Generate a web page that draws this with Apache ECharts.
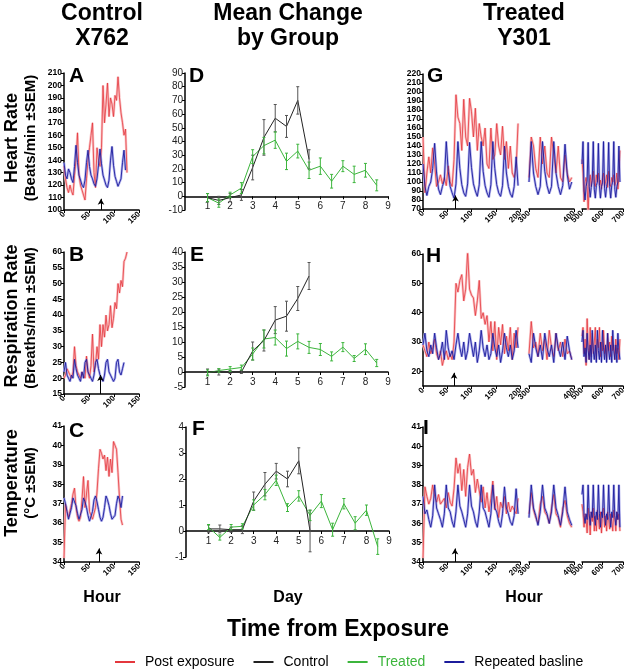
<!DOCTYPE html>
<html><head><meta charset="utf-8">
<script src="https://cdn.jsdelivr.net/npm/echarts@6/dist/echarts.min.js"></script>
<style>html,body{margin:0;padding:0;background:#fff}#c{width:630px;height:669px}</style>
</head><body><div id="c"></div>
<script>
// ---------- DATA ----------
const ctrlHours = [0,3,6,9,12,15,18,21,24,27,30,33,36,39,42,45,48,51,54,57,60,63,66,69,72,75,78,81,84,87,90,93,96,99,102,105,108,111,114,117,120,123,126];
const seg1Hours = [0,4,8,12,16,20,24,28,32,36,40,44,48,52,56,60,64,68,72,76,80,84,88,92,96,100,104,108,112,116,120,124,128,132,136,140,144,148,152,156,160,164,168,172,176,180,184,188,192,196];
const seg2Hours = [300,305,310,315,320,325,330,335,340,345,350,355,360,365,370,375,380,385,390,395];
const seg3Hours = [500,505,510,515,520,525,530,535,540,545,550,555,560,565,570,575,580,585,590,595,600,605,610,615,620,625,630,635,640,645,650,655,660,665,670,675,680,685];

// Control X762
const hrCtrlPost = [135,125,118,114,120,115,112,128,140,162,128,120,116,112,108,125,140,150,160,170,130,118,150,140,135,150,200,170,185,202,175,190,185,175,192,188,207,190,178,170,160,165,130];
const hrCtrlBase = [138,128,125,133,130,125,122,135,152,138,128,124,120,118,124,138,148,135,128,125,121,119,125,136,149,137,128,124,120,118,124,140,151,136,127,123,119,118,125,138,148,132];
const rrCtrlPost = [20,21,23,22,21,20,22,30,24,22,21,20,22,21,20,27,22,20,24,34,22,24,30,26,37,30,37,33,40,35,37,43,36,39,44,42,50,47,51,49,57,58,60];
const rrCtrlBase = [22,25,21,20,19,21,20,26,23,21,20,19,22,20,25,26,22,21,20,19,21,25,26,23,21,20,19,21,25,26,22,21,20,19,20,25,26,22,21,23,25];
const tCtrlPost = [34.2,37.0,36.6,36.3,36.2,37.0,37.5,37.8,36.8,36.3,36.1,36.3,37.2,38.4,36.8,37.5,38.2,36.6,36.4,36.2,36.3,36.8,37.6,38.8,39.8,39.6,39.3,39.5,38.7,39.4,38.4,39.3,38.6,40.2,40.1,39.8,38.6,37.3,36.2,35.9];
const tCtrlBase = [37.3,37.0,36.6,36.2,36.3,36.8,37.3,37.2,36.9,36.5,36.2,36.2,36.7,37.3,37.1,36.8,36.4,36.1,36.2,36.6,37.2,37.4,37.1,36.7,36.3,36.1,36.3,36.8,37.4,37.2,36.9,36.5,36.2,36.1,36.4,37.0,37.4,37.2,36.8,37.4];

// Mean change by group
const days = [1,1.5,2,2.5,3,3.5,4,4.5,5,5.5,6,6.5,7,7.5,8,8.5];
const hrMeanCtrl = [-1,-3,-1,1,21,43,57,51,70,27];
const hrErrCtrl  = [3,3,3,4,9,13,10,8,10,7];
const hrMeanTrt  = [-1,-5,1,6,29,37,41,25.5,33,19,22,11,22,16,19,8];
const hrErrTrt   = [3,3,2,4,5,6,6,6,5,6,6,5,4,6,5,4];
const rrMeanCtrl = [0,0,0,0,7,10.5,17.3,18.6,24.5,32];
const rrErrCtrl  = [1,1,0.5,0.5,3,3.5,4.5,5,4,4.5];
const rrMeanTrt  = [-0.3,0.5,1,1.5,6,11,11.5,7.8,10.2,8.2,7.5,5.2,8.3,4.5,7.6,3];
const rrErrTrt   = [1,0.6,0.8,0.8,2,3,2.5,2.5,2.5,2,2,1.5,1.5,1,1.8,1.2];
const tMeanCtrl  = [0.08,0.08,0.05,0.05,1.15,1.8,2.3,2.0,2.7,0.0];
const tErrCtrl   = [0.15,0.15,0.1,0.15,0.35,0.45,0.3,0.3,0.5,0.8];
const tMeanTrt   = [0.15,-0.25,0.15,0.18,1.0,1.4,1.95,0.9,1.35,0.6,1.15,0.05,1.05,0.3,0.8,-0.6];
const tErrTrt    = [0.1,0.1,0.1,0.1,0.2,0.2,0.2,0.15,0.2,0.2,0.25,0.25,0.2,0.25,0.2,0.3];

// Treated Y301
const hrTrtPost1 = [150,88,110,128,110,138,120,95,100,108,98,105,96,118,100,95,125,197,172,165,135,192,150,140,193,178,150,182,135,165,150,140,160,120,115,160,125,130,165,140,130,162,125,145,115,140,110,105,115,165];
const hrTrtBase1 = [120,95,85,95,100,115,143,110,92,86,95,102,145,112,95,88,82,98,145,115,97,88,84,98,144,116,98,90,84,97,145,112,96,88,83,97,145,115,97,88,84,96,140,110,95,87,83,95,128,96];
const hrTrtPost2 = [105,150,140,115,105,150,120,140,110,105,150,130,110,140,105,100,130,110,100,105];
const hrTrtBase2 = [100,145,110,95,86,95,145,112,96,87,95,145,110,95,86,96,142,108,92,100];
const hrTrtPost3 = [125,110,78,100,105,95,66,100,108,95,105,112,98,95,108,100,110,96,102,92,105,110,95,100,108,94,112,98,95,105,100,108,96,100,110,92,105,135];
const hrTrtBase3 = [120,145,90,80,95,101,144,95,83,94,102,145,92,82,96,100,143,96,82,95,99,145,93,83,95,101,144,95,82,96,100,145,92,83,95,100,140,100];

const rrTrtPost1 = [29,27,25,30,26,28,31,26,24,27,22,25,27,24,26,24,30,50,47,51,53,44,48,61,48,46,45,39,44,51,38,40,36,39,30,37,27,37,24,35,29,36,26,32,27,35,24,33,28,35];
const rrTrtBase1 = [29,33,27,25,29,26,33,28,24,26,30,24,34,28,25,27,24,29,33,28,25,30,24,27,33,29,25,30,23,27,34,28,25,29,24,26,33,28,25,29,23,27,33,28,25,29,24,27,34,28];
const rrTrtPost2 = [26,37,28,30,25,33,27,31,24,34,28,25,33,27,30,25,31,26,27,24];
const rrTrtBase2 = [26,23,33,28,25,29,24,33,28,25,29,23,33,28,25,30,24,32,27,24];
const rrTrtPost3 = [32,35,26,31,22,38,28,24,35,25,33,26,30,35,24,31,28,35,25,30,27,34,26,29,24,33,27,30,25,32,27,29,24,31,26,28,24,31];
const rrTrtBase3 = [30,34,25,28,23,33,27,24,29,23,34,27,24,29,23,34,27,24,30,23,34,28,24,29,23,33,27,24,29,23,34,27,24,29,23,33,27,24];

const tTrtPost1 = [34.2,37.9,37.4,37.0,37.3,38.0,37.4,37.1,37.5,37.0,36.9,37.3,36.8,37.6,37.1,36.9,37.8,39.4,38.6,39.1,37.7,38.8,37.4,38.9,39.6,38.5,38.8,37.6,38.3,38.2,37.1,37.9,36.8,37.6,36.6,37.3,38.2,36.7,37.4,36.3,37.1,36.8,37.4,36.5,37.1,36.6,36.9,36.8,36.5,37.3];
const tTrtBase1 = [37.4,36.5,36.7,36.2,35.8,36.4,38.0,36.8,36.5,36.2,35.8,36.5,38.0,36.8,36.6,36.1,35.8,36.6,38.0,36.9,36.6,36.2,35.8,36.5,38.0,36.9,36.6,36.1,35.8,36.6,38.0,36.8,36.6,36.2,35.8,36.5,38.0,36.8,36.6,36.1,35.8,36.5,37.9,36.8,36.5,36.1,35.9,36.4,37.8,36.5];
const tTrtPost2 = [36.5,37.6,36.7,36.3,36.0,37.0,37.4,36.6,36.4,36.0,36.8,37.5,36.5,36.3,35.8,36.8,37.2,36.4,36.0,35.8];
const tTrtBase2 = [36.3,38.0,36.8,36.4,35.9,36.6,38.0,36.8,36.5,36.0,36.6,38.0,36.8,36.4,35.9,36.6,37.9,36.6,36.2,35.9];
const tTrtPost3 = [37.0,36.6,35.8,36.5,36.2,35.5,36.8,36.3,35.4,36.6,36.1,36.8,35.6,36.4,35.6,36.7,36.3,35.7,36.6,35.5,36.5,36.8,35.8,36.4,35.6,36.6,36.2,35.7,36.5,36.1,35.6,36.7,36.3,35.6,36.6,36.2,36.5,35.6];
const tTrtBase3 = [37.5,38.0,36.4,36.0,36.5,36.2,38.0,36.5,35.9,36.6,36.3,38.0,36.4,35.9,36.6,36.2,38.0,36.5,35.8,36.6,36.3,38.0,36.4,35.9,36.5,36.2,38.0,36.5,35.8,36.6,36.3,38.0,36.4,35.9,36.6,36.2,38.0,35.8];

// exposure arrows: [hour, from, to]
const arrowA = [74,100,109], arrowB = [73,15,21], arrowC = [70,34,34.7];
const arrowG = [67,70,85], arrowH = [64,15,19.5], arrowI = [66,34,34.7];

// ---------- STYLE / LAYOUT ----------
const FONT = '"Liberation Sans", Arial, sans-serif';
const RED = '#e4373d', RED_BAND = '#f9c3c5', BLUE = '#1c1c9c', BLUE_BAND = '#b4b4ee';
const BLACK = '#222222', GREEN = '#3cb53c';

const grids = [], xAxes = [], yAxes = [], series = [];
function pair(h, v) { return v.map((y, i) => [h[i], y]); }

function addGrid(r) {
  grids.push({left: r[0], top: r[1], width: r[2], height: r[3], containLabel: false, outerBoundsMode: 'none'});
  return grids.length - 1;
}

function addTime(rect, xr, yr, showY, red, blue, arrow, yCustom) {
  const gi = addGrid(rect);
  xAxes.push({type: 'value', gridIndex: gi, min: xr[0], max: xr[1], interval: xr[2],
    axisLine: {onZero: false, lineStyle: {color: '#000', width: 1.5}},
    axisTick: {length: 3, lineStyle: {color: '#000', width: 1}},
    axisLabel: {rotate: 45, fontSize: 8, fontWeight: 'bold', color: '#000', fontFamily: FONT, margin: 3},
    splitLine: {show: false}});
  const yl = {fontSize: 8.5, fontWeight: 'bold', color: '#000', fontFamily: FONT, margin: 2};
  const yt = {show: true, length: 3, lineStyle: {color: '#000', width: 1}};
  if (yCustom) { yl.customValues = yCustom; yt.customValues = yCustom; }
  yAxes.push({type: 'value', gridIndex: gi, min: yr[0], max: yr[1], interval: yr[2], show: showY,
    axisLine: {show: true, onZero: false, lineStyle: {color: '#000', width: 1.5}},
    axisTick: yt, axisLabel: yl, splitLine: {show: false}});
  const base = {type: 'line', xAxisIndex: gi, yAxisIndex: gi, symbol: 'none', showSymbol: false, silent: true, animation: false};
  series.push(Object.assign({}, base, {name: 'pe-band', data: red, z: 1, lineStyle: {color: RED_BAND, width: 2.5}, itemStyle: {color: RED_BAND}}));
  series.push(Object.assign({}, base, {name: 'rb-band', data: blue, z: 1, lineStyle: {color: BLUE_BAND, width: 2.5}, itemStyle: {color: BLUE_BAND}}));
  series.push(Object.assign({}, base, {name: 'Post exposure', data: red, z: 2, lineStyle: {color: RED, width: 0.8}, itemStyle: {color: RED}}));
  const b = Object.assign({}, base, {name: 'Repeated basline', data: blue, z: 3, lineStyle: {color: BLUE, width: 0.9}, itemStyle: {color: BLUE}});
  if (arrow) {
    b.markLine = {silent: true, animation: false, symbol: ['none', 'arrow'], symbolSize: [5, 6],
      lineStyle: {color: '#000', width: 1, type: 'solid'}, label: {show: false},
      data: [[{coord: [arrow[0], arrow[1]]}, {coord: [arrow[0], arrow[2]]}]]};
  }
  series.push(b);
}

function errSeries(gi, pts, vals, errs, color) {
  return {type: 'custom', xAxisIndex: gi, yAxisIndex: gi, silent: true, animation: false, z: 4,
    data: vals.map((v, i) => [pts[i], v, errs[i]]), encode: {x: 0, y: 1},
    renderItem: function (params, api) {
      const x = api.value(0), y = api.value(1), e = api.value(2);
      const p1 = api.coord([x, y + e]), p2 = api.coord([x, y - e]);
      const st = {stroke: color, lineWidth: 1};
      return {type: 'group', children: [
        {type: 'line', shape: {x1: p1[0], y1: p1[1], x2: p2[0], y2: p2[1]}, style: st},
        {type: 'line', shape: {x1: p1[0] - 1.5, y1: p1[1], x2: p1[0] + 1.5, y2: p1[1]}, style: st},
        {type: 'line', shape: {x1: p2[0] - 1.5, y1: p2[1], x2: p2[0] + 1.5, y2: p2[1]}, style: st}]};
    }};
}

function addDay(rect, yr, mc, ec, mt, et) {
  const gi = addGrid(rect);
  // place the x axis at value 0 of the y range
  const zeroOffset = -((0 - yr[0]) / (yr[1] - yr[0])) * rect[3];
  xAxes.push({type: 'value', gridIndex: gi, min: 0, max: 9, interval: 1, offset: zeroOffset,
    axisLine: {onZero: false, lineStyle: {color: '#000', width: 1.5}},
    axisTick: {length: 3, lineStyle: {color: '#000'}},
    axisLabel: {fontSize: 10, color: '#222', fontFamily: FONT, margin: 5, showMinLabel: false},
    splitLine: {show: false}});
  yAxes.push({type: 'value', gridIndex: gi, min: yr[0], max: yr[1], interval: yr[2],
    axisLine: {show: true, onZero: false, lineStyle: {color: '#000', width: 1.5}},
    axisTick: {show: true, length: 3, lineStyle: {color: '#000'}},
    axisLabel: {fontSize: 10, color: '#222', fontFamily: FONT, margin: 2},
    splitLine: {show: false}});
  const base = {type: 'line', xAxisIndex: gi, yAxisIndex: gi, symbol: 'none', showSymbol: false, silent: true, animation: false};
  series.push(Object.assign({}, base, {name: 'Control', data: pair(days, mc), z: 3, lineStyle: {color: BLACK, width: 1}, itemStyle: {color: BLACK}}));
  series.push(Object.assign({}, base, {name: 'Treated', data: pair(days, mt), z: 2, lineStyle: {color: GREEN, width: 1}, itemStyle: {color: GREEN}}));
  series.push(errSeries(gi, days, mc, ec, '#555'));
  series.push(errSeries(gi, days, mt, et, GREEN));
}

const X_CTRL = [0, 150, 50], X1 = [0, 200, 50], X2 = [300, 400, 100], X3 = [500, 700, 100];

// Row 1
addTime([64, 73, 75, 137], X_CTRL, [100, 210, 10], true, pair(ctrlHours, hrCtrlPost), pair(ctrlHours, hrCtrlBase), arrowA);
addDay([185, 73, 203, 137], [-10, 90, 10], hrMeanCtrl, hrErrCtrl, hrMeanTrt, hrErrTrt);
addTime([423, 74, 97, 135], X1, [70, 220, 10], true, pair(seg1Hours, hrTrtPost1), pair(seg1Hours, hrTrtBase1), arrowG);
addTime([529, 74, 45, 135], X2, [70, 220, 10], false, pair(seg2Hours, hrTrtPost2), pair(seg2Hours, hrTrtBase2));
addTime([582, 74, 41, 135], X3, [70, 220, 10], false, pair(seg3Hours, hrTrtPost3), pair(seg3Hours, hrTrtBase3));
// Row 2
addTime([64, 252, 75, 142], X_CTRL, [15, 60, 5], true, pair(ctrlHours, rrCtrlPost), pair(ctrlHours, rrCtrlBase), arrowB);
addDay([185, 252, 203, 135], [-5, 40, 5], rrMeanCtrl, rrErrCtrl, rrMeanTrt, rrErrTrt);
const H_TICKS = [20, 30, 40, 50, 60];
addTime([423, 254, 97, 132], X1, [15, 60, 5], true, pair(seg1Hours, rrTrtPost1), pair(seg1Hours, rrTrtBase1), arrowH, H_TICKS);
addTime([529, 254, 45, 132], X2, [15, 60, 5], false, pair(seg2Hours, rrTrtPost2), pair(seg2Hours, rrTrtBase2));
addTime([582, 254, 41, 132], X3, [15, 60, 5], false, pair(seg3Hours, rrTrtPost3), pair(seg3Hours, rrTrtBase3));
// Row 3
addTime([64, 426, 75, 136], X_CTRL, [34, 41, 1], true, pair(ctrlHours, tCtrlPost), pair(ctrlHours, tCtrlBase), arrowC);
addDay([186, 427, 203, 130], [-1, 4, 1], tMeanCtrl, tErrCtrl, tMeanTrt, tErrTrt);
addTime([423, 427, 97, 135], X1, [34, 41, 1], true, pair(seg1Hours, tTrtPost1), pair(seg1Hours, tTrtBase1), arrowI);
addTime([529, 427, 45, 135], X2, [34, 41, 1], false, pair(seg2Hours, tTrtPost2), pair(seg2Hours, tTrtBase2));
addTime([582, 427, 41, 135], X3, [34, 41, 1], false, pair(seg3Hours, tTrtPost3), pair(seg3Hours, tTrtBase3));

// ---------- TEXT ----------
function txt(t, x, y, font, opts) {
  return Object.assign({type: 'text', x: x, y: y, silent: true,
    style: {text: t, font: font + ' ' + FONT, fill: '#000', textAlign: 'center', textVerticalAlign: 'middle'}}, opts || {});
}
function rot(t, x, y, font) { return txt(t, x, y, font, {rotation: Math.PI / 2}); }
function letter(t, x, y) {
  const e = txt(t, x, y, 'bold 21px');
  e.style.textAlign = 'left';
  return e;
}
const graphics = [
  txt('Control', 102, 14, 'bold 23px'), txt('X762', 102, 39, 'bold 23px'),
  txt('Mean Change', 288, 14, 'bold 23px'), txt('by Group', 288, 39, 'bold 23px'),
  txt('Treated', 524, 14, 'bold 23px'), txt('Y301', 524, 39, 'bold 23px'),
  rot('Heart Rate', 12, 138, 'bold 18px'), rot('(Beats/min \u00b1SEM)', 31, 138, 'bold 15px'),
  rot('Respiration Rate', 12, 316, 'bold 18px'), rot('(Breaths/min \u00b1SEM)', 31, 318, 'bold 15px'),
  rot('Temperature', 12, 483, 'bold 18px'), rot('(\u00b0C \u00b1SEM)', 31, 483, 'bold 15px'),
  letter('A', 69, 76), letter('D', 189, 76), letter('G', 427, 76),
  letter('B', 69, 255), letter('E', 190, 255), letter('H', 426, 256),
  letter('C', 69, 431), letter('F', 192, 429), letter('I', 423, 428),
  txt('Hour', 102, 598, 'bold 16px'), txt('Day', 288, 598, 'bold 16px'), txt('Hour', 524, 598, 'bold 16px'),
  txt('Time from Exposure', 338, 630, 'bold 23px')
];

const chart = echarts.init(document.getElementById('c'), null, {renderer: 'canvas'});
chart.setOption({
  animation: false,
  backgroundColor: '#fff',
  textStyle: {fontFamily: FONT},
  grid: grids, xAxis: xAxes, yAxis: yAxes, series: series,
  graphic: graphics,
  legend: {left: 110, top: 650, itemWidth: 20, itemHeight: 2, itemGap: 19, icon: 'rect', selectedMode: false,
    textStyle: {fontSize: 14, color: '#000', fontFamily: FONT, padding: [0, 0, 0, 5]},
    data: [{name: 'Post exposure'}, {name: 'Control'}, {name: 'Treated', textStyle: {color: GREEN}}, {name: 'Repeated basline'}]}
});
</script></body></html>
